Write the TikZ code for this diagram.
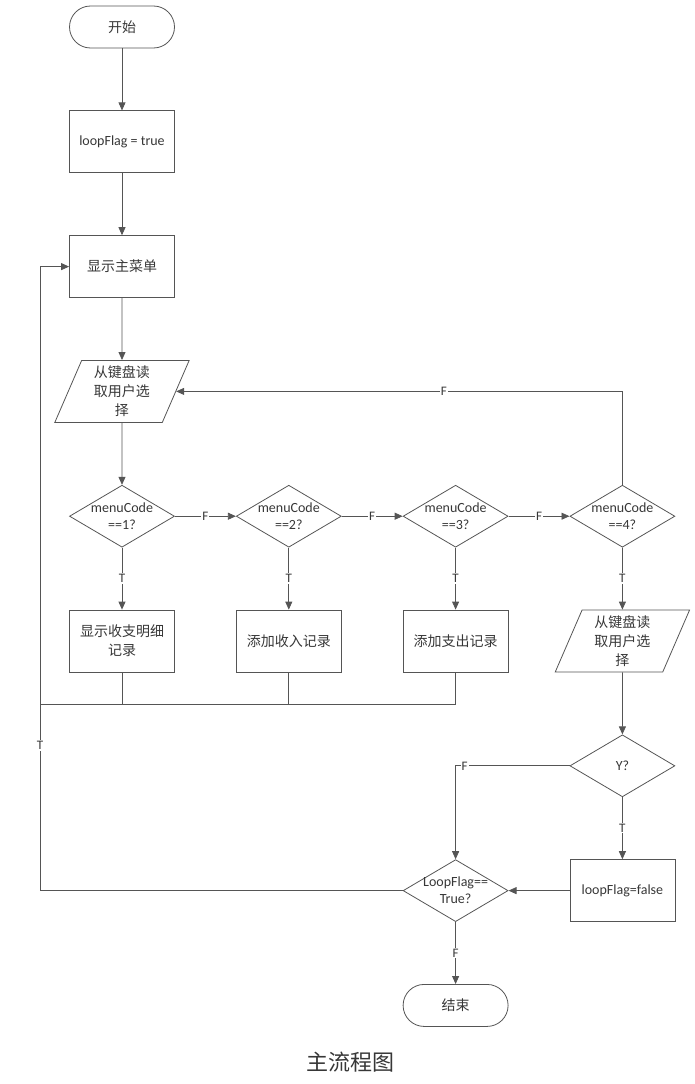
\documentclass[tikz,border=0pt]{standalone}
\usepackage{fontspec}
\setmainfont{Carlito}
\newfontfamily\cjk{Noto Sans CJK SC}
\usetikzlibrary{shapes.geometric, positioning, arrows.meta, calc}
\definecolor{linegray}{RGB}{85,85,85}
\definecolor{textgray}{RGB}{55,55,55}
\def\zh#1{{\cjk #1}}

\begin{document}
\begin{tikzpicture}[
    font=\fontsize{14}{17}\selectfont, text=textgray,
    node distance=62pt and 61pt,
    startstop/.style={rectangle, rounded corners=21pt, minimum width=105pt, minimum height=42pt, text centered, draw=linegray, line width=0.8pt},
    process/.style={rectangle, minimum width=105pt, minimum height=62pt, text centered, align=center, draw=linegray, line width=0.8pt, font=\fontsize{14}{19}\selectfont},
    io/.style={trapezium, trapezium left angle=70, trapezium right angle=110, trapezium stretches=true, minimum width=135pt, minimum height=62pt, inner sep=1pt, text centered, align=center, draw=linegray, line width=0.8pt, font=\fontsize{14}{19}\selectfont},
    decision/.style={diamond, shape aspect=1.7, minimum width=105pt, minimum height=62pt, inner sep=-3pt, text centered, align=center, draw=linegray, line width=0.8pt},
    arrow/.style={draw=linegray, line width=0.8pt, -{Triangle[length=8pt,width=7pt]}},
    line/.style={draw=linegray, line width=0.8pt},
    lbl/.style={fill=white, inner sep=1pt, font=\fontsize{13}{13}\selectfont},
]
\useasboundingbox (0,0) rectangle (695pt,-1084pt);

% Start
\node[startstop] (start) at (122pt,-27pt) {\zh{开始}};
\node[process, below=of start] (setTrue) {loopFlag = true};
\node[process, below=of setTrue] (menu) {\zh{显示主菜单}};
\node[io, below=of menu] (readMenu) {\zh{从键盘读}\\\zh{取用户选}\\\zh{择}};

% Menu choices
\node[decision, below=of readMenu] (chk1) {menuCode\\==1?};
\node[decision, right=of chk1] (chk2) {menuCode\\==2?};
\node[decision, right=of chk2] (chk3) {menuCode\\==3?};
\node[decision, right=of chk3] (chk4) {menuCode\\==4?};
\node[process, below=of chk1] (showAll) {\zh{显示收支明细}\\\zh{记录}};
\node[process, below=of chk2] (addIn) {\zh{添加收入记录}};
\node[process, below=of chk3] (addOut) {\zh{添加支出记录}};
\node[io, below=of chk4] (readYes) {\zh{从键盘读}\\\zh{取用户选}\\\zh{择}};

% Exit
\node[decision, below=of readYes] (chkYes) {Y?};
\node[process, below=of chkYes] (setFalse) {loopFlag=false};
\node[decision, left=of setFalse] (chkLoop) {LoopFlag==\\True?};
\node[startstop, below=of chkLoop] (stop) {\zh{结束}};
\path (showAll.south) ++(-82pt,-32pt) coordinate (back);

\node[font=\cjk\fontsize{22}{22}\selectfont] (title) at (350pt,-1062pt) {主流程图};

% Arrows
\draw[arrow] (start) -- (setTrue);
\draw[arrow] (setTrue) -- (menu);
\draw[arrow] (menu) -- (readMenu);
\draw[arrow] (readMenu) -- (chk1);
\draw[arrow] (chk1) -- node[lbl] {F} (chk2);
\draw[arrow] (chk2) -- node[lbl] {F} (chk3);
\draw[arrow] (chk3) -- node[lbl] {F} (chk4);
\draw[arrow] (chk1) -- node[lbl] {T} (showAll);
\draw[arrow] (chk2) -- node[lbl] {T} (addIn);
\draw[arrow] (chk3) -- node[lbl] {T} (addOut);
\draw[arrow] (chk4) -- node[lbl] {T} (readYes);
\draw[arrow] (chk4.north) |- node[lbl, pos=0.7] {F} (readMenu.east);

% Back to menu
\draw[line] (showAll.south) |- (back);
\draw[line] (addIn.south) |- (back);
\draw[line] (addOut.south) |- (back);
\draw[arrow] (back) |- (menu.west);

% Exit part
\draw[arrow] (readYes) -- (chkYes);
\draw[arrow] (chkYes) -- node[lbl] {T} (setFalse);
\draw[arrow] (chkYes.west) -| node[lbl, pos=0.46] {F} (chkLoop.north);
\draw[arrow] (setFalse) -- (chkLoop);
\draw[arrow] (chkLoop) -- node[lbl] {F} (stop);
\draw[line] (chkLoop.west) -| node[lbl, pos=0.89] {T} (back);

\end{tikzpicture}
\end{document}
